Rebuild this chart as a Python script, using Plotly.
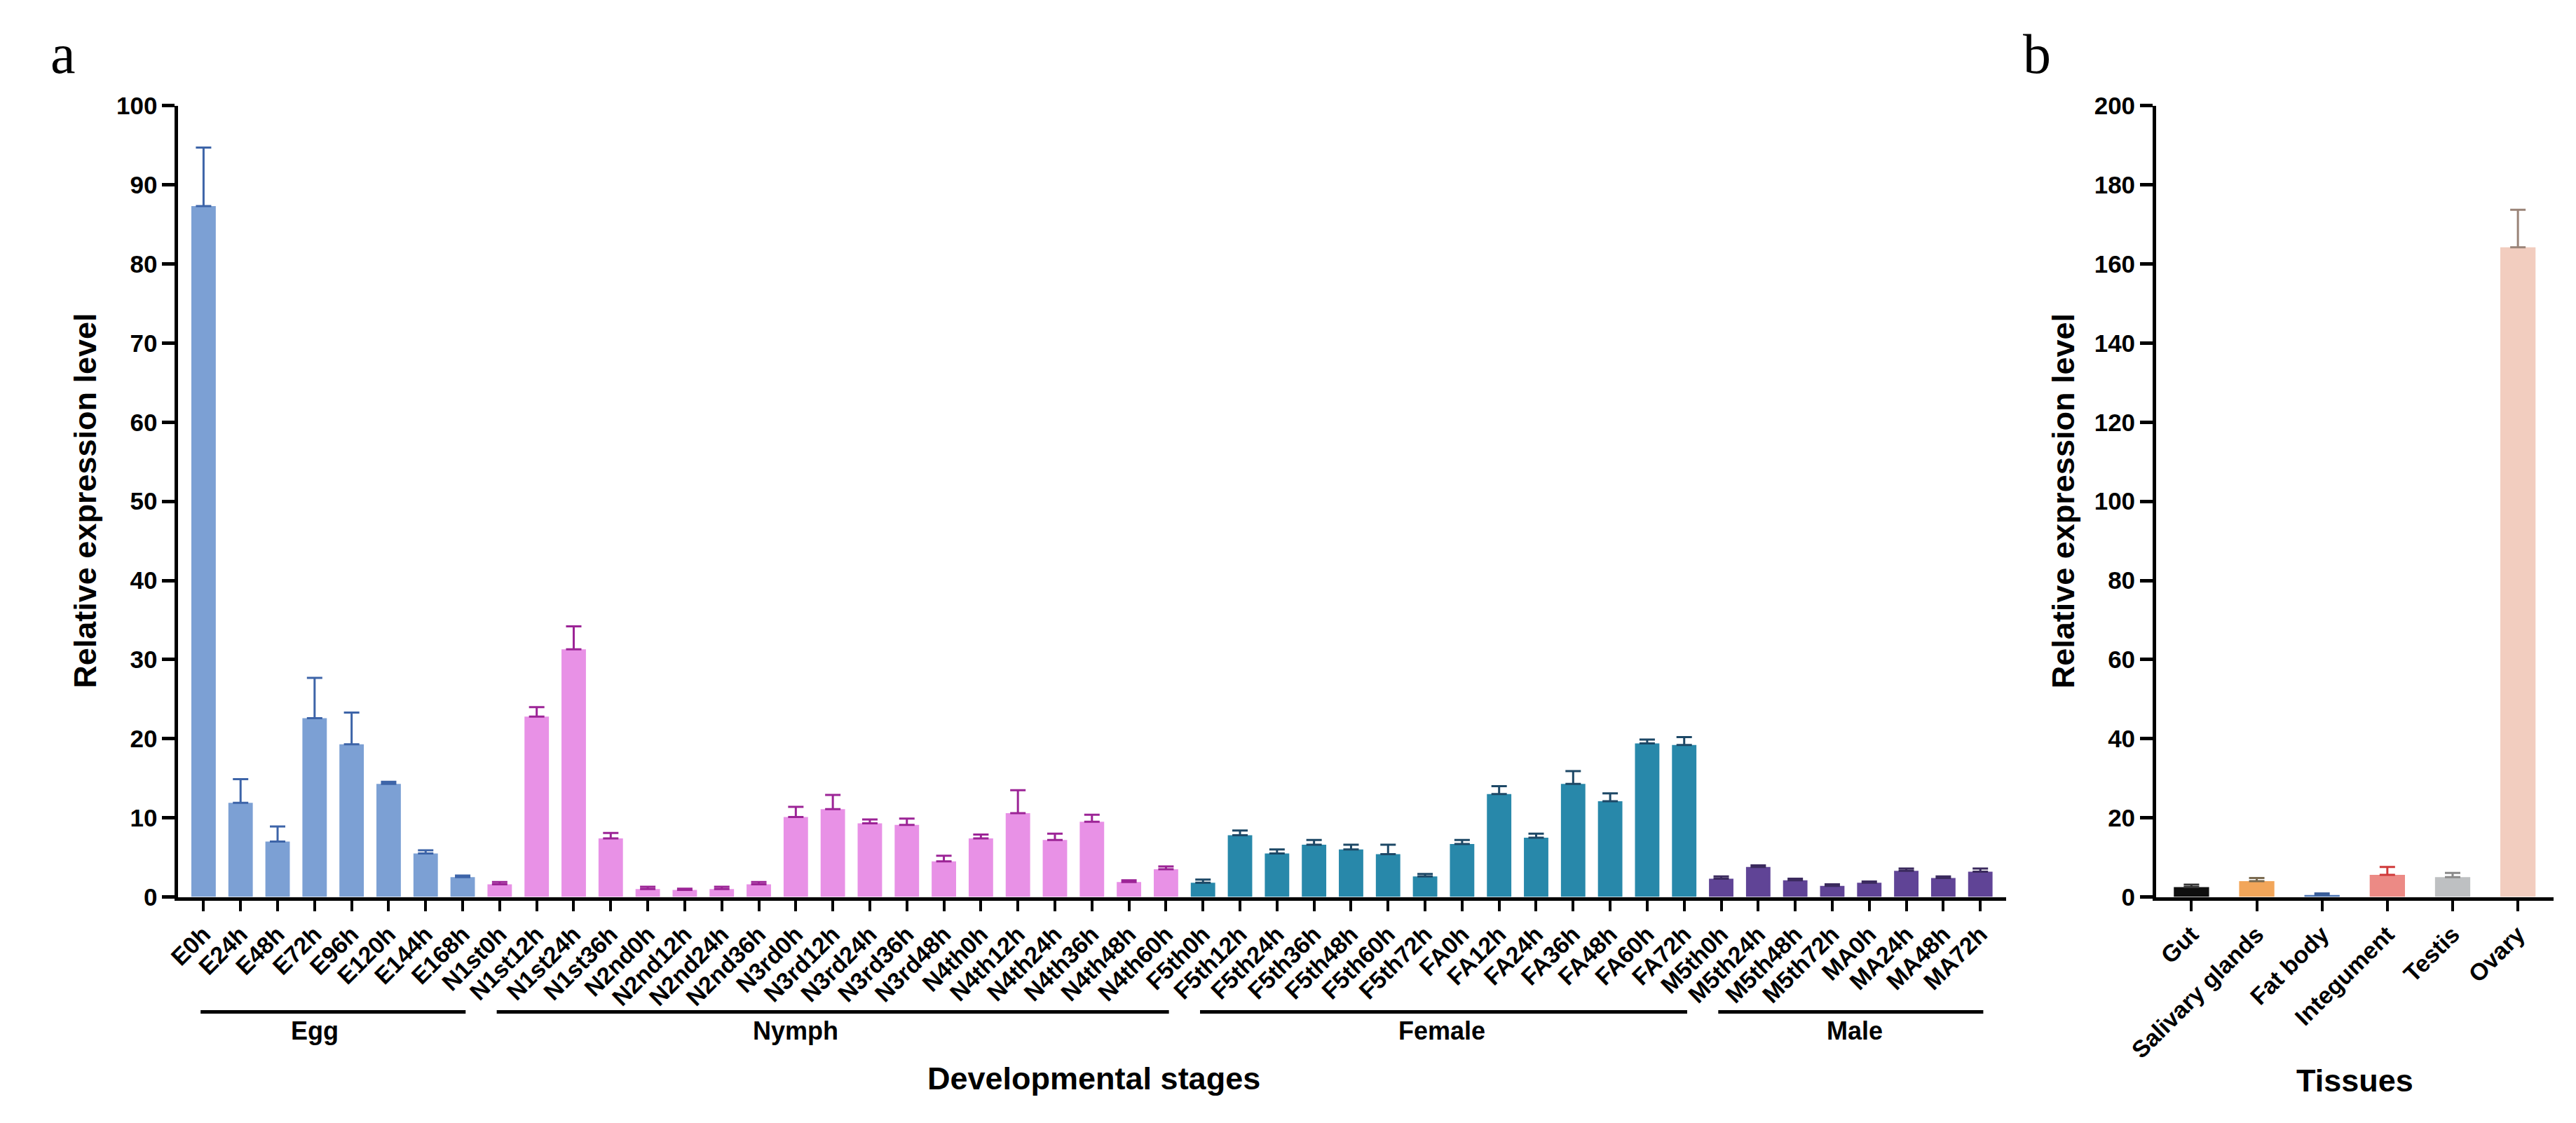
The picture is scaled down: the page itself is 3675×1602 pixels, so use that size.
import plotly.graph_objects as go

# ---------------- data ----------------
egg_labels = ["E0h", "E24h", "E48h", "E72h", "E96h", "E120h", "E144h", "E168h"]
egg_values = [87.3, 11.9, 7.0, 22.6, 19.3, 14.3, 5.5, 2.5]
egg_errors = [7.4, 3.0, 1.9, 5.1, 4.0, 0.25, 0.4, 0.2]

nymph_labels = ["N1st0h", "N1st12h", "N1st24h", "N1st36h", "N2nd0h", "N2nd12h", "N2nd24h",
                "N2nd36h", "N3rd0h", "N3rd12h", "N3rd24h", "N3rd36h", "N3rd48h", "N4th0h",
                "N4th12h", "N4th24h", "N4th36h", "N4th48h", "N4th60h"]
nymph_values = [1.6, 22.8, 31.3, 7.4, 1.0, 0.9, 1.0, 1.6, 10.1, 11.1, 9.3, 9.1, 4.5, 7.4,
                10.6, 7.2, 9.5, 1.9, 3.5]
nymph_errors = [0.3, 1.2, 2.9, 0.7, 0.3, 0.15, 0.3, 0.3, 1.3, 1.8, 0.5, 0.8, 0.7, 0.5,
                2.9, 0.8, 0.9, 0.2, 0.35]

female_labels = ["F5th0h", "F5th12h", "F5th24h", "F5th36h", "F5th48h", "F5th60h", "F5th72h",
                 "FA0h", "FA12h", "FA24h", "FA36h", "FA48h", "FA60h", "FA72h"]
female_values = [1.8, 7.8, 5.5, 6.6, 6.0, 5.4, 2.6, 6.7, 13.0, 7.5, 14.3, 12.1, 19.4, 19.2]
female_errors = [0.4, 0.6, 0.5, 0.6, 0.6, 1.2, 0.3, 0.5, 1.0, 0.5, 1.6, 1.0, 0.5, 1.0]

male_labels = ["M5th0h", "M5th24h", "M5th48h", "M5th72h", "MA0h", "MA24h", "MA48h", "MA72h"]
male_values = [2.3, 3.8, 2.1, 1.4, 1.8, 3.3, 2.4, 3.2]
male_errors = [0.3, 0.2, 0.2, 0.2, 0.15, 0.3, 0.2, 0.4]

group_names = ["Egg", "Nymph", "Female", "Male"]

tissue_labels = ["Gut", "Salivary glands", "Fat body", "Integument", "Testis", "Ovary"]
tissue_values = [2.5, 4.0, 0.5, 5.6, 5.0, 164.2]
tissue_errors = [0.6, 0.8, 0.4, 2.0, 1.1, 9.5]

y_ticks_a = list(range(0, 101, 10))
y_ticks_b = list(range(0, 201, 20))

# ---------------- style ----------------
W, H = 3675, 1602
FONT = "Liberation Sans, Arial, sans-serif"
SERIF = "Liberation Serif, Times New Roman, serif"
group_fill = ["#7CA0D4", "#E891E6", "#2888AA", "#604496"]
group_err = ["#3D64A8", "#9C2496", "#1D4866", "#3B2A5E"]
tissue_fill = ["#0E0E0E", "#F2A65A", "#4A74B4", "#EC8A85", "#BEC0C2", "#F2CDBF"]
tissue_err = ["#333333", "#7A6A50", "#3A5E9A", "#D03A3A", "#8A8A8A", "#9A8478"]

groups = [
    (egg_labels, egg_values, egg_errors),
    (nymph_labels, nymph_values, nymph_errors),
    (female_labels, female_values, female_errors),
    (male_labels, male_values, male_errors),
]
all_stage_labels = [lab for g in groups for lab in g[0]]

fig = go.Figure()

for i, (labs, vals, errs) in enumerate(groups):
    fig.add_trace(go.Bar(
        x=labs, y=vals, width=0.66,
        marker=dict(color=group_fill[i], line=dict(width=0)),
        error_y=dict(type="data", array=errs, arrayminus=[0] * len(errs), symmetric=False,
                     color=group_err[i], thickness=3, width=11),
        xaxis="x", yaxis="y", showlegend=False, name=group_names[i],
    ))

for j in range(len(tissue_labels)):
    fig.add_trace(go.Bar(
        x=[tissue_labels[j]], y=[tissue_values[j]], width=0.54,
        marker=dict(color=tissue_fill[j], line=dict(width=0)),
        error_y=dict(type="data", array=[tissue_errors[j]], arrayminus=[0], symmetric=False,
                     color=tissue_err[j], thickness=3, width=11),
        xaxis="x2", yaxis="y2", showlegend=False, name=tissue_labels[j],
    ))

ydom = [1 - 1291 / H, 1 - 134 / H]
tickfont = dict(family=FONT, size=34, color="black", weight="bold")

common_x = dict(type="category", showline=True, linecolor="black", linewidth=5,
                ticks="outside", ticklen=15, tickwidth=4, tickcolor="black",
                tickangle=-45, tickfont=tickfont, showgrid=False, zeroline=False)
common_y = dict(showline=True, linecolor="black", linewidth=5, ticks="outside",
                ticklen=18, tickwidth=5, tickcolor="black",
                tickfont=dict(family=FONT, size=35, color="black", weight="bold"),
                showgrid=False, zeroline=False)

fig.update_layout(
    width=W, height=H, margin=dict(l=0, r=0, t=0, b=0),
    paper_bgcolor="white", plot_bgcolor="white",
    xaxis=dict(domain=[214 / W, 2852 / W], anchor="y", categoryorder="array",
               categoryarray=all_stage_labels, range=[-0.68, len(all_stage_labels) - 1 + 0.69],
               **common_x),
    yaxis=dict(domain=ydom, anchor="x", range=[0, 100], tickvals=y_ticks_a, **common_y),
    xaxis2=dict(domain=[3069 / W, 3643 / W], anchor="y2", categoryorder="array",
                categoryarray=tissue_labels, range=[-0.54, len(tissue_labels) - 1 + 0.55],
                **common_x),
    yaxis2=dict(domain=ydom, anchor="x2", range=[0, 200], tickvals=y_ticks_b, **common_y),
)

# group brackets under the stage axis
shapes = []
annotations = []
start = 0
label_pos = [3.0, 16.0, 33.45, 44.6]
for i, (labs, vals, errs) in enumerate(groups):
    end = start + len(labs) - 1
    shapes.append(dict(type="line", xref="x", yref="paper",
                       x0=start - 0.08, x1=end + 0.08, y0=1 - 1459 / H, y1=1 - 1459 / H,
                       line=dict(color="black", width=5)))
    annotations.append(dict(x=label_pos[i], y=1 - 1487 / H, xref="x", yref="paper",
                            text=group_names[i], showarrow=False, xanchor="center", yanchor="middle",
                            font=dict(family=FONT, size=36, color="black", weight="bold")))
    start = end + 1

title_font = dict(family=FONT, size=45, color="black", weight="bold")
annotations += [
    dict(x=1535 / W, y=1 - 1556 / H, xref="paper", yref="paper", text="Developmental stages",
         showarrow=False, font=title_font, xanchor="center", yanchor="middle"),
    dict(x=3356 / W, y=1 - 1559 / H, xref="paper", yref="paper", text="Tissues",
         showarrow=False, font=title_font, xanchor="center", yanchor="middle"),
    dict(x=80 / W, y=1 - 712 / H, xref="paper", yref="paper", text="Relative expression level",
         showarrow=False, font=title_font, textangle=-90, xanchor="center", yanchor="middle"),
    dict(x=2935 / W, y=1 - 712 / H, xref="paper", yref="paper", text="Relative expression level",
         showarrow=False, font=title_font, textangle=-90, xanchor="center", yanchor="middle"),
    dict(x=48 / W, y=1 - 58 / H, xref="paper", yref="paper", text="a", showarrow=False,
         font=dict(family=SERIF, size=80, color="black"), xanchor="center", yanchor="middle"),
    dict(x=2897 / W, y=1 - 58 / H, xref="paper", yref="paper", text="b", showarrow=False,
         font=dict(family=SERIF, size=80, color="black"), xanchor="center", yanchor="middle"),
]
fig.update_layout(shapes=shapes, annotations=annotations)

fig.write_html("out.html", config={"displayModeBar": False},
               post_script="document.body.style.margin='0';document.body.style.overflow='hidden';")
